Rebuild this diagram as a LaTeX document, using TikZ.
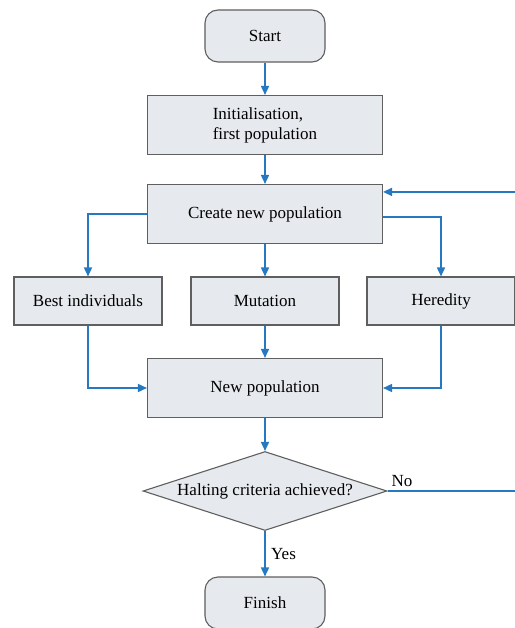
\documentclass[tikz,border=0pt]{standalone}
\usepackage{fontspec}
\setmainfont{Liberation Serif}
\usepackage{tikz}
\usetikzlibrary{positioning}
\usetikzlibrary{arrows.meta}
\usetikzlibrary{shapes}
\definecolor{boxgray}{RGB}{230,233,238}
\definecolor{linegray}{RGB}{95,95,95}
\definecolor{flowblue}{RGB}{38,120,192}

\begin{document}
\begin{tikzpicture}[x=1pt,y=1pt,font=\fontsize{17}{20}\selectfont]
\useasboundingbox[fill=white] (0,0) rectangle (514,-628);

\begin{scope}[every node/.style={fill=boxgray,draw=linegray,line width=1.1pt,inner sep=3pt},
              wide/.style={minimum width=235pt,minimum height=59pt},
              small/.style={minimum width=148pt,minimum height=48pt},
              term/.style={rounded corners=13pt,minimum width=120pt,minimum height=52pt}]
    \node[term] (start) at (265,-36) {Start};
    \node[wide,align=left] (init) at (265,-125) {Initialisation,\\first population};
    \node[wide] (create) at (265,-214) {Create new population};
    \node[small] (best) at (88,-301) {Best individuals};
    \node[small] (mut) at (265,-301) {Mutation};
    \node[small] (hered) at (441,-301) {Heredity};
    \node[wide] (newpop) at (265,-388) {New population};
    \node[diamond,aspect=3.1,inner sep=0pt,minimum width=244pt,minimum height=79pt] (halt) at (265,-491) {Halting criteria achieved?};
    \node[term] (finish) at (265,-603) {Finish};
\end{scope}

\coordinate (loop) at (522,-491);

\begin{scope}[>={Triangle[length=9pt,width=8pt]},
              every path/.style={draw=flowblue,line width=1.6pt}]
    \path [->] (start) edge (init);
    \path [->] (init) edge (create);
    \path [->] (create) edge (mut);
    \path [->] (mut) edge (newpop);
    \path [->] (newpop) edge (halt);
    \draw [->] (create.west) -| (best.north);
    \draw [->] ([yshift=-3pt]create.east) -| (hered.north);
    \draw [->] (best.south) |- (newpop.west);
    \draw [->] (hered.south) |- (newpop.east);
    \path [->] (halt) edge node[right=2pt,text=black,draw=none] {Yes} (finish);
    \draw [->] (halt.east) -- node[pos=0,above right=0pt and 0pt,text=black,draw=none] {No} (loop)
        |- ([yshift=-8pt]create.north east);
\end{scope}
\end{tikzpicture}
\end{document}
